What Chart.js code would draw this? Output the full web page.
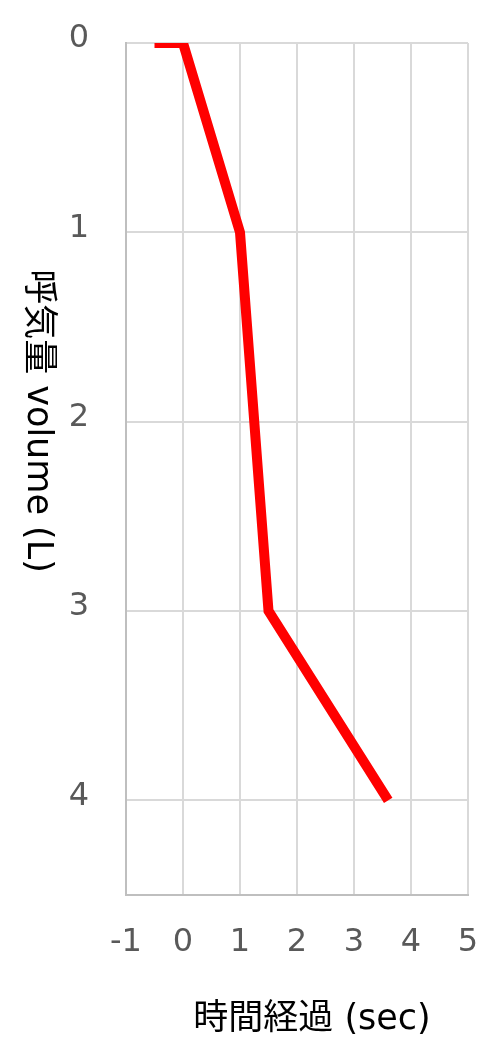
<!DOCTYPE html>
<html>
<head>
<meta charset="utf-8">
<script src="https://cdn.jsdelivr.net/npm/chart.js@4/dist/chart.umd.min.js"></script>
<style>
    body { margin: 0; background: #ffffff; }
    #wrap { width: 503px; height: 1061px; position: relative; }
</style>
</head>
<body>
<div id="wrap"><canvas id="chartVolume"></canvas></div>
<script>
// time (sec) vs exhaled volume (L)
var timeSec = [-0.5, 0, 1, 1.5, 3.6];
var volumeL = [0, 0, 1, 3, 4];

var xTitle = "時間経過 (sec)";
var yTitle = "呼気量 volume (L)";

var points = timeSec.map(function (t, i) {
    return { x: t, y: volumeL[i] };
});

// axis titles drawn by hand: Excel offsets them and turns the y one clockwise
var axisTitles = {
    id: 'axisTitles',
    afterDraw: function (chart) {
        var ctx = chart.ctx;
        ctx.save();
        ctx.fillStyle = '#000000';
        ctx.font = '35px "DejaVu Sans", "Noto Sans CJK JP"';
        ctx.textAlign = 'center';
        ctx.textBaseline = 'middle';
        ctx.fillText(xTitle, 312, 1020);
        ctx.translate(37, 421);
        ctx.rotate(Math.PI / 2);
        ctx.fillText(yTitle, 0, 0);
        ctx.restore();
    }
};

var canvas = document.querySelector("#chartVolume").getContext("2d");
var volumeChart = new Chart(canvas, {
    type: 'scatter',
    data: {
        datasets: [{
            label: 'volume',
            data: points,
            showLine: true,
            borderColor: '#ff0000',
            backgroundColor: '#ff0000',
            borderWidth: 10,
            pointRadius: 0,
            pointHoverRadius: 0,
            tension: 0
        }]
    },
    options: {
        responsive: true,
        maintainAspectRatio: false,
        animation: false,
        layout: {
            padding: { top: 43, right: 35, left: 0, bottom: 0 }
        },
        plugins: {
            legend: { display: false },
            tooltip: { enabled: false }
        },
        scales: {
            x: {
                type: 'linear',
                min: -1,
                max: 5,
                afterFit: function (scale) {
                    scale.height = 166;
                    scale.paddingLeft = 0;
                    scale.paddingRight = 0;
                },
                ticks: {
                    stepSize: 1,
                    padding: 28,
                    color: '#595959',
                    font: { family: '"DejaVu Sans"', size: 32 }
                },
                grid: { color: '#d9d9d9', lineWidth: 2, drawTicks: false },
                border: { color: '#bfbfbf', width: 2 }
            },
            y: {
                type: 'linear',
                min: 0,
                max: 4.5,
                reverse: true,
                afterFit: function (scale) {
                    scale.width = 126;
                    scale.paddingTop = 0;
                    scale.paddingBottom = 0;
                },
                ticks: {
                    stepSize: 1,
                    includeBounds: false,
                    padding: 37,
                    labelOffset: -4,
                    color: '#595959',
                    font: { family: '"DejaVu Sans"', size: 32 }
                },
                grid: { color: '#d9d9d9', lineWidth: 2, drawTicks: false },
                border: { color: '#bfbfbf', width: 2 }
            }
        }
    },
    plugins: [axisTitles]
});
</script>
</body>
</html>
